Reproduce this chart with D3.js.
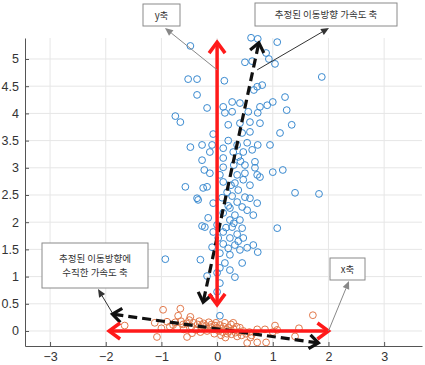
<!DOCTYPE html>
<html>
<head>
<meta charset="utf-8">
<script src="https://cdn.jsdelivr.net/npm/d3@7"></script>
<style>
  body { margin: 0; background: #fff; }
  svg { display: block; }
  .tick-label { font-family: "Liberation Sans", Arial, sans-serif; font-size: 12.5px; fill: #333; }
  .note { font-family: "Noto Sans CJK KR", "Noto Sans", sans-serif; font-size: 9.5px; fill: #333; }
</style>
</head>
<body>
<script>
// Tick values
const xTicks = [-3, -2, -1, 0, 1, 2, 3];
const yTicks = [0, 0.5, 1, 1.5, 2, 2.5, 3, 3.5, 4, 4.5, 5];

// Blue points (vertical cluster)
const blueX = [-0.48, 0.61, 0.73, 1.08, 0.88, 0.50, 0.63, 0.93, 1.04, -0.52, -0.36, 0.13, 1.88, -0.36, 0.72, 0.81, 0.66, 1.22,
  -0.18, -0.75, -0.66, 0.11, 0.27, 0.41, 0.14, 0.27, 0.77, 0.90, 1.00, 1.25, 0.56, 0.73, 0.20, 0.41, 0.59, 0.77, 1.34,
  -0.07, 0.45, 0.59, 1.13, -0.48, -0.27, -0.09, 0.11, 0.36, 0.54, 0.73, 0.95, -0.13, 0.29, 0.47, 0.63,
  -0.27, 0.11, 0.38, 0.68, 0.11, 0.50, 0.68, -0.23, -0.13, 0.05, 0.36, 0.72, 1.00, 1.18, -0.57, -0.25, -0.18, 0.11, 0.32,
  0.47, 0.59, 0.77, 1.40, 1.83, 0.38, -0.36, 0.59, 0.50,
  -0.34, -0.07, 0.36, 0.72, 0.23, 0.45, 0.54, 0.11, 0.32, 0.65, -0.16, 0.23, 0.41, -0.27, -0.22, 0.00, 0.27, 0.45, 1.08,
  -0.07, 0.11, 0.36, 0.02, 0.23, 0.47, 0.11, 0.32, 0.65, -0.09, 0.41, 0.54, 0.73, 0.05, 0.23, -0.30, -0.93,
  0.45, 0.14, 0.05, 0.23, -0.18, 0.00, 0.32, 0.05, 0.00, 0.05,
  0.18, 0.27, 0.20, 0.30, 0.16, 0.38, 0.20, 0.09, 0.25, 0.30, 0.42, 0.20, 0.50];
const blueY = [5.24, 5.39, 5.37, 5.31, 5.11, 4.94, 4.96, 5.00, 4.91, 4.63, 4.63, 4.60, 4.67, 4.34, 4.49, 4.52, 4.43, 4.30,
  4.10, 3.95, 3.84, 4.12, 4.21, 4.19, 4.01, 4.03, 4.12, 4.15, 4.21, 4.06, 4.03, 4.01, 3.79, 3.82, 3.84, 3.82, 3.79,
  3.62, 3.64, 3.66, 3.64, 3.38, 3.42, 3.42, 3.36, 3.42, 3.46, 3.42, 3.42, 3.29, 3.29, 3.29, 3.33,
  3.14, 3.18, 3.20, 3.11, 3.01, 3.05, 3.00, 2.96, 2.90, 2.87, 2.87, 2.87, 2.92, 2.96, 2.65, 2.63, 2.65, 2.74, 2.72,
  2.78, 2.68, 2.83, 2.54, 2.52, 2.59, 2.44, 2.44, 2.46,
  2.41, 2.35, 2.37, 2.35, 2.26, 2.28, 2.22, 2.17, 2.13, 2.13, 2.08, 2.04, 2.04, 1.93, 1.91, 1.95, 1.91, 1.89, 1.89,
  1.82, 1.82, 1.78, 1.71, 1.71, 1.71, 1.60, 1.58, 1.58, 1.54, 1.49, 1.53, 1.45, 1.43, 1.40, 1.31, 1.32,
  1.25, 1.25, 1.16, 1.12, 1.01, 1.07, 0.99, 0.88, 0.72, 0.28,
  2.55, 2.48, 2.30, 1.98, 1.90, 1.65, 1.52, 2.45, 2.68, 3.05, 3.12, 3.50, 2.90];

// Orange points (horizontal cluster)
const orangeX = [-0.97, -0.66, -0.70, -0.48, -1.12, -1.66, -1.08, -0.79, -0.54, -0.61, -0.27, 1.72, 1.04, 0.72, 0.86,
  1.40, 1.47, 0.54, 0.72, 0.88, 0.60, 0.41, 0.29, 0.14, 1.00, 1.08,
  -0.90, -0.85, -0.75, -0.72, -0.65, -0.60, -0.55, -0.50, -0.46, -0.42, -0.38, -0.35, -0.32, -0.28, -0.24, -0.20,
  -0.18, -0.15, -0.12, -0.10, -0.06, -0.04, -0.02, 0.00, 0.03, 0.05, 0.08, 0.10, 0.12, 0.16, 0.18, 0.20, 0.23, 0.26,
  0.30, 0.33, 0.36, 0.40, 0.44, 0.47, 0.52, 0.58, 0.62, -0.05, 0.07, -0.30, 0.15, 0.35, 0.25, -0.45, -1.00];
const orangeY = [0.39, 0.41, 0.28, 0.26, 0.15, 0.10, -0.11, 0.11, -0.11, 0.12, 0.11, 0.29, 0.10, 0.03, 0.03,
  -0.10, 0.05, -0.22, -0.21, -0.21, -0.12, 0.06, 0.15, 0.15, -0.02, 0.02,
  0.17, 0.08, 0.16, 0.05, 0.18, 0.03, 0.14, 0.20, 0.08, 0.15, 0.02, 0.12, 0.18, 0.05, 0.14, 0.09,
  0.00, 0.16, 0.07, 0.12, 0.03, 0.10, 0.15, 0.06, 0.00, 0.11, 0.04, -0.02, 0.08, 0.02, -0.05, 0.06, 0.00, -0.06,
  0.03, -0.03, -0.10, -0.02, -0.08, 0.00, -0.05, -0.02, -0.08, -0.05, -0.08, -0.02, -0.12, 0.08, 0.12, -0.04, 0.05];

// Arrow end points in data units [x1, y1, x2, y2]
const redArrows = [[0, 0.48, 0, 5.31], [-1.94, 0, 2.0, 0]];
const dashArrows = [[-0.25, 0.53, 0.75, 5.30], [-1.88, 0.31, 1.82, -0.22]];

// Callouts: anchor in data units, box in pixels
const notes = [
  { lines: ["y축"], ax: 0, ay: 4.80, box: [143, 4, 37, 22], tip: [165, 28], col: "#888" },
  { lines: ["추정된 이동방향 가속도 축"], ax: 0.72, ay: 4.80, box: [255, 3, 142, 23], tip: [329, 28], col: "#333" },
  { lines: ["추정된 이동방향에", "수직한 가속도 축"], ax: -1.88, ay: 0.33, box: [42, 243, 106, 45], tip: [98, 289], col: "#333" },
  { lines: ["x축"], ax: 2.0, ay: 0, box: [330, 258, 35, 22], tip: [349, 281], col: "#888" }
];

const width = 425, height = 365;
const mLeft = 25, mRight = 422, mTop = 38, mBottom = 346;

const svg = d3.select("body").append("svg")
  .attr("width", width)
  .attr("height", height);

const x = d3.scaleLinear().domain([-3.45, 3.68]).range([mLeft, mRight]);
const y = d3.scaleLinear().domain([-0.276, 5.386]).range([mBottom, mTop]);

// grid
svg.append("g").selectAll("line").data(xTicks).join("line")
  .attr("x1", d => x(d)).attr("x2", d => x(d))
  .attr("y1", mTop).attr("y2", mBottom)
  .attr("stroke", "#e6e6e6").attr("stroke-width", 1);
svg.append("g").selectAll("line").data(yTicks).join("line")
  .attr("x1", mLeft).attr("x2", mRight)
  .attr("y1", d => y(d)).attr("y2", d => y(d))
  .attr("stroke", "#e6e6e6").attr("stroke-width", 1);

// axes
const xAxis = d3.axisBottom(x).tickValues(xTicks).tickSize(-4).tickSizeOuter(0).tickPadding(4).tickFormat(d3.format("d"));
const yAxis = d3.axisLeft(y).tickValues(yTicks).tickSize(-4).tickSizeOuter(0).tickPadding(8).tickFormat(d => String(d));

const gx = svg.append("g").attr("transform", `translate(0,${mBottom})`).call(xAxis);
const gy = svg.append("g").attr("transform", `translate(${mLeft},0)`).call(yAxis);
for (const g of [gx, gy]) {
  g.select(".domain").attr("stroke", "#555");
  g.selectAll(".tick line").attr("stroke", "#555");
  g.selectAll("text").attr("class", "tick-label").attr("fill", null);
}
gx.selectAll("text").attr("dy", "0.88em");
gy.selectAll("text").attr("dx", "2px");

// scatter
const blue = blueX.map((d, i) => [d, blueY[i]]);
const orange = orangeX.map((d, i) => [d, orangeY[i]]);

svg.append("g").selectAll("circle").data(orange).join("circle")
  .attr("cx", d => x(d[0])).attr("cy", d => y(d[1])).attr("r", 3.4)
  .attr("fill", "none").attr("stroke", "#e2784a").attr("stroke-width", 1);
svg.append("g").selectAll("circle").data(blue).join("circle")
  .attr("cx", d => x(d[0])).attr("cy", d => y(d[1])).attr("r", 3.4)
  .attr("fill", "none").attr("stroke", "#3a8ad0").attr("stroke-width", 1);

// open chevron head at (x2,y2) pointing away from (x1,y1)
function head(g, x1, y1, x2, y2, color, len, half, sw) {
  const a = Math.atan2(y2 - y1, x2 - x1);
  const bx = x2 - len * Math.cos(a), by = y2 - len * Math.sin(a);
  const px = -Math.sin(a) * half, py = Math.cos(a) * half;
  g.append("path")
    .attr("d", `M${bx + px},${by + py}L${x2},${y2}L${bx - px},${by - py}`)
    .attr("fill", "none").attr("stroke", color).attr("stroke-width", sw)
    .attr("stroke-linejoin", "miter").attr("stroke-linecap", "butt");
}

function doubleArrow(d, color, dash, sw, len, half) {
  const g = svg.append("g");
  const x1 = x(d[0]), y1 = y(d[1]), x2 = x(d[2]), y2 = y(d[3]);
  const a = Math.atan2(y2 - y1, x2 - x1);
  const s = 2;
  g.append("line")
    .attr("x1", x1 + s * Math.cos(a)).attr("y1", y1 + s * Math.sin(a))
    .attr("x2", x2 - s * Math.cos(a)).attr("y2", y2 - s * Math.sin(a))
    .attr("stroke", color).attr("stroke-width", sw)
    .attr("stroke-dasharray", dash);
  head(g, x1, y1, x2, y2, color, len, half, sw);
  head(g, x2, y2, x1, y1, color, len, half, sw);
}

dashArrows.forEach(d => doubleArrow(d, "#111", "9,5", 3.2, 9, 7));
redArrows.forEach(d => doubleArrow(d, "#ff1a1a", null, 3.5, 11, 8));

// callouts
for (const n of notes) {
  const g = svg.append("g");
  const ax = x(n.ax), ay = y(n.ay);
  const [tx, ty] = n.tip;
  const a = Math.atan2(ty - ay, tx - ax);
  const len = 8, half = 3.5;
  const bx = tx - len * Math.cos(a), by = ty - len * Math.sin(a);
  g.append("line").attr("x1", ax).attr("y1", ay).attr("x2", bx).attr("y2", by)
    .attr("stroke", n.col).attr("stroke-width", 1);
  g.append("path")
    .attr("d", `M${tx},${ty}L${bx - Math.sin(a) * half},${by + Math.cos(a) * half}L${bx + Math.sin(a) * half},${by - Math.cos(a) * half}Z`)
    .attr("fill", n.col);

  const [bx0, by0, bw, bh] = n.box;
  g.append("rect").attr("x", bx0).attr("y", by0).attr("width", bw).attr("height", bh)
    .attr("fill", "#fff").attr("stroke", "#8a8a8a").attr("stroke-width", 1);
  const t = g.append("text").attr("class", "note").attr("text-anchor", "middle");
  const lh = 14;
  const y0 = by0 + bh / 2 - (n.lines.length - 1) * lh / 2 + 3.5;
  n.lines.forEach((s, i) => {
    t.append("tspan").attr("x", bx0 + bw / 2).attr("y", y0 + i * lh).text(s);
  });
}
</script>
</body>
</html>
